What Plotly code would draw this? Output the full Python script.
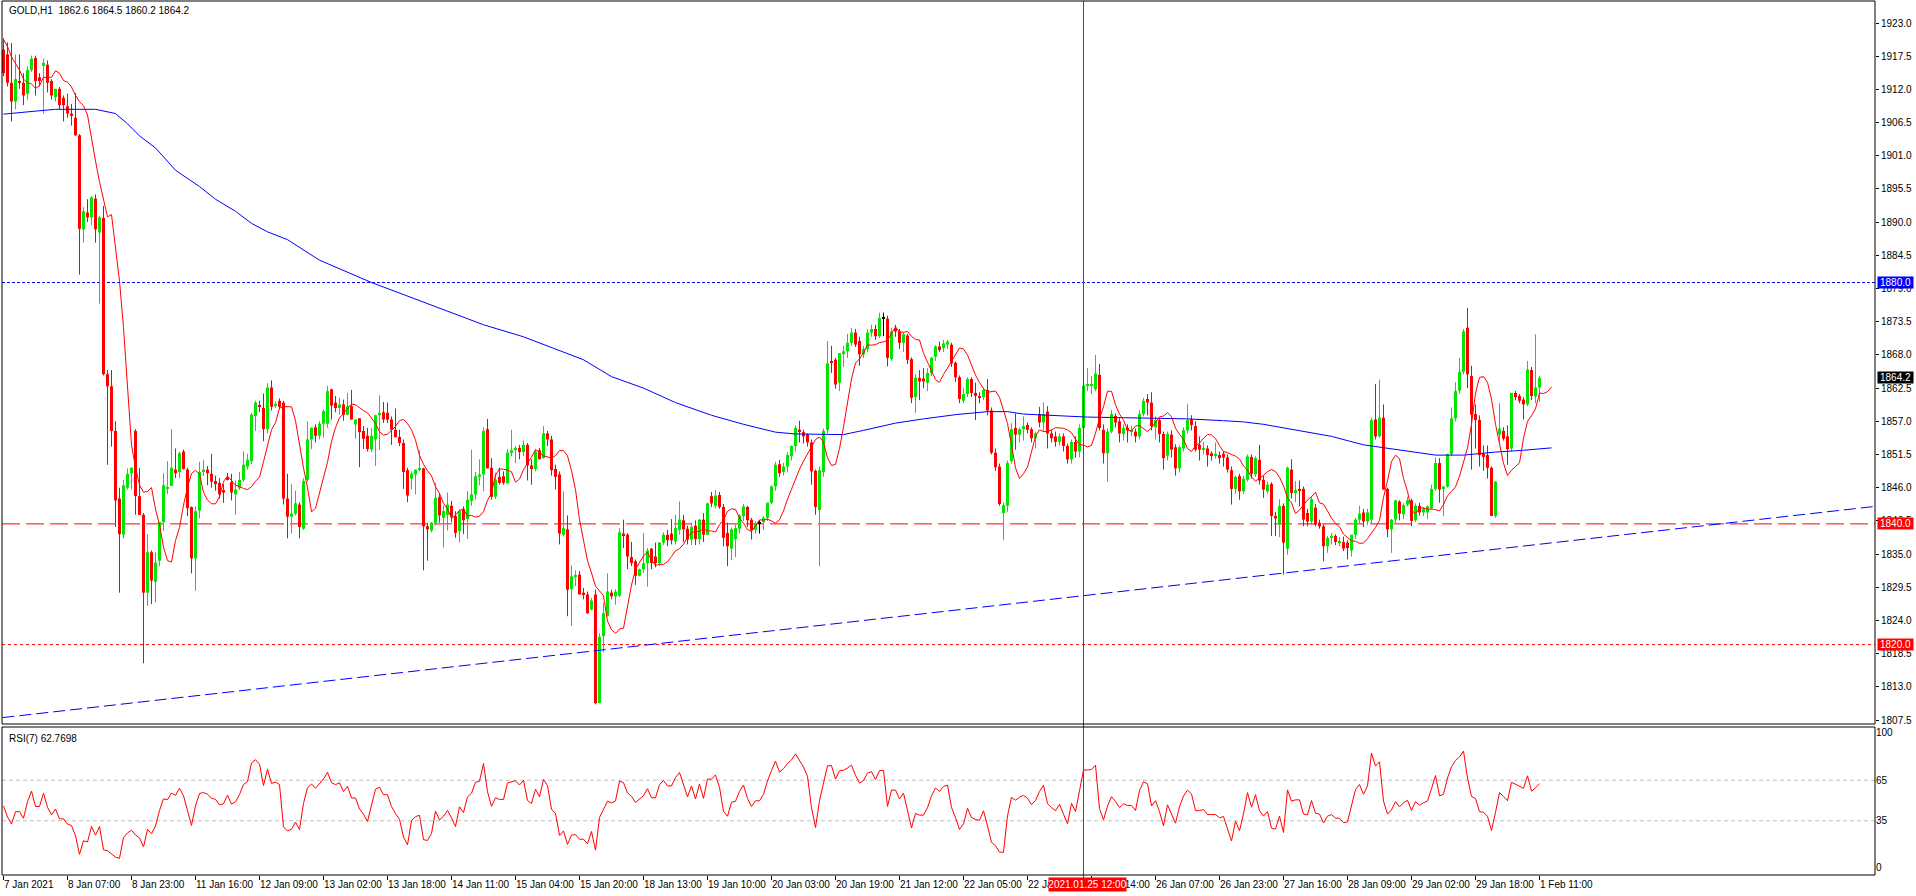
import plotly.graph_objects as go

# ---------------- DATA ----------------
opens = [
    1918.6, 1917.8, 1913.1, 1910.0, 1913.4, 1913.1, 1911.3, 1915.2, 1917.2, 1914.0,
    1915.9, 1916.1, 1913.4, 1910.7, 1912.1, 1910.6, 1909.2, 1908.0, 1907.3, 1904.4,
    1888.8, 1891.6, 1890.8, 1893.9, 1888.3, 1890.7, 1864.8, 1862.8, 1855.4, 1844.2,
    1838.2, 1846.0, 1848.4, 1855.4, 1844.6, 1841.5, 1828.6, 1835.3, 1830.4, 1833.9,
    1840.3, 1845.8, 1846.3, 1849.0, 1848.6, 1852.0, 1849.0, 1842.8, 1834.3, 1842.2,
    1848.6, 1849.0, 1848.3, 1847.1, 1846.8, 1845.6, 1847.7, 1846.9, 1844.9, 1845.9,
    1847.3, 1849.5, 1850.4, 1857.9, 1859.6, 1859.2, 1855.7, 1862.6, 1859.6, 1860.4,
    1860.1, 1844.2, 1841.2, 1841.7, 1843.2, 1839.2, 1847.3, 1854.0, 1856.0, 1854.6,
    1856.6, 1856.6, 1862.3, 1860.1, 1859.2, 1859.8, 1858.1, 1859.5, 1856.5, 1857.5,
    1855.4, 1854.6, 1852.3, 1854.0, 1858.0, 1858.5, 1858.4, 1857.3, 1855.6, 1854.4,
    1853.4, 1848.9, 1847.5, 1848.2, 1849.0, 1849.2, 1839.6, 1838.9, 1840.2, 1844.4,
    1841.0, 1841.5, 1843.0, 1841.3, 1838.8, 1842.5, 1840.8, 1843.8, 1844.9, 1847.8,
    1848.2, 1855.7, 1849.3, 1844.5, 1847.8, 1847.9, 1846.7, 1851.9, 1852.3, 1852.6,
    1851.9, 1853.1, 1849.7, 1849.1, 1852.2, 1850.9, 1855.0, 1854.0, 1849.1, 1848.2,
    1838.2, 1839.1, 1829.2, 1831.2, 1831.6, 1828.6, 1828.3, 1825.8, 1828.3, 1810.3,
    1821.4, 1824.7, 1828.6, 1828.0, 1828.1, 1838.4, 1838.2, 1834.5, 1833.8, 1831.4,
    1832.5, 1833.5, 1835.9, 1834.6, 1833.5, 1836.9, 1838.2, 1838.4, 1837.1, 1839.0,
    1840.6, 1839.2, 1837.4, 1839.7, 1837.5, 1840.7, 1838.2, 1844.6, 1843.0, 1844.8,
    1842.8, 1838.5, 1835.9, 1837.5, 1839.2, 1841.3, 1842.8, 1840.7, 1839.0, 1840.0,
    1840.3, 1841.0, 1843.5, 1846.2, 1849.9, 1848.6, 1849.5, 1851.2, 1852.9, 1855.6,
    1855.2, 1854.8, 1853.5, 1848.8, 1842.3, 1848.6, 1855.6, 1866.8, 1867.2, 1863.4,
    1868.3, 1868.6, 1870.0, 1871.7, 1870.3, 1868.1, 1869.0, 1871.7, 1872.3, 1871.1,
    1874.1, 1874.0, 1867.3, 1872.4, 1871.9, 1870.0, 1871.2, 1867.3, 1861.0, 1864.2,
    1864.1, 1863.4, 1865.0, 1867.7, 1869.4, 1869.1, 1869.7, 1869.7, 1866.7, 1864.3,
    1860.4, 1861.5, 1864.0, 1861.7, 1861.2, 1861.0, 1862.2, 1858.8, 1851.8, 1849.5,
    1841.8, 1843.0, 1850.4, 1855.9, 1854.8, 1855.7, 1856.4, 1855.7, 1854.2, 1858.2,
    1856.8, 1858.6, 1855.0, 1854.5, 1853.6, 1854.5, 1852.9, 1850.7, 1853.6, 1852.0,
    1855.9, 1862.9, 1863.0, 1862.3, 1864.7, 1855.6, 1851.7, 1855.3, 1857.9, 1857.0,
    1854.9, 1855.9, 1855.3, 1855.3, 1854.5, 1858.2, 1860.7, 1860.1, 1856.0, 1857.2,
    1854.9, 1851.3, 1854.8, 1852.7, 1849.2, 1852.5, 1855.5, 1857.3, 1856.2, 1853.1,
    1852.4, 1852.5, 1851.7, 1851.3, 1851.4, 1851.6, 1851.0, 1848.9, 1845.8, 1847.9,
    1845.4, 1847.3, 1851.1, 1848.2, 1850.6, 1847.3, 1845.4, 1846.6, 1841.3, 1839.9,
    1843.0, 1835.9, 1849.0, 1845.1, 1845.8, 1845.8, 1841.8, 1840.4, 1842.7, 1840.2,
    1839.6, 1836.3, 1837.7, 1838.0, 1836.9, 1837.0, 1836.9, 1835.6, 1838.2, 1840.7,
    1841.9, 1840.4, 1840.7, 1857.3, 1854.5, 1857.6, 1845.8, 1839.1, 1840.7, 1843.7,
    1841.6, 1843.2, 1843.9, 1840.6, 1843.0, 1841.9, 1841.9, 1842.6, 1845.8, 1850.1,
    1845.9, 1846.2, 1851.6, 1857.5, 1862.1, 1865.2, 1872.5, 1864.5, 1858.2, 1857.2,
    1851.6, 1851.4, 1849.3, 1841.3, 1854.8, 1855.4, 1854.5, 1852.5, 1861.7, 1861.2,
    1860.6, 1859.8, 1865.5, 1861.1, 1862.6,
]
highs = [
    1920.5, 1919.8, 1919.7, 1917.8, 1917.8, 1914.7, 1915.8, 1917.6, 1917.6, 1914.7,
    1917.1, 1916.8, 1913.7, 1912.1, 1912.4, 1911.0, 1911.3, 1909.6, 1911.4, 1904.6,
    1892.5, 1893.8, 1894.3, 1894.6, 1891.0, 1892.7, 1865.5, 1865.5, 1857.0, 1846.0,
    1847.3, 1849.2, 1849.4, 1855.7, 1849.3, 1841.8, 1838.3, 1835.6, 1835.3, 1840.3,
    1848.4, 1850.4, 1855.7, 1852.5, 1852.0, 1852.3, 1849.3, 1842.9, 1842.9, 1850.3,
    1850.6, 1849.6, 1851.6, 1848.0, 1847.6, 1846.6, 1848.4, 1848.3, 1847.2, 1848.6,
    1852.0, 1851.6, 1858.4, 1860.4, 1860.4, 1861.6, 1863.3, 1863.8, 1860.3, 1860.8,
    1860.4, 1848.3, 1846.6, 1845.5, 1843.6, 1847.6, 1857.0, 1856.0, 1856.5, 1857.0,
    1859.0, 1862.9, 1862.4, 1861.2, 1860.9, 1860.6, 1861.7, 1862.2, 1857.3, 1857.5,
    1856.2, 1855.9, 1855.9, 1858.1, 1861.3, 1860.2, 1860.1, 1857.8, 1859.1, 1855.6,
    1854.0, 1849.3, 1848.7, 1849.0, 1852.2, 1849.3, 1840.2, 1840.3, 1846.8, 1845.1,
    1843.0, 1845.2, 1843.8, 1842.1, 1842.4, 1842.9, 1845.4, 1852.3, 1848.6, 1850.7,
    1856.0, 1857.4, 1850.9, 1848.5, 1849.3, 1848.7, 1852.4, 1855.6, 1852.9, 1853.1,
    1853.8, 1853.4, 1850.7, 1852.3, 1852.6, 1856.2, 1855.4, 1854.6, 1849.8, 1848.7,
    1845.4, 1841.4, 1833.1, 1832.3, 1832.2, 1829.4, 1828.8, 1827.7, 1829.1, 1821.9,
    1826.9, 1831.8, 1829.1, 1829.2, 1839.3, 1840.7, 1838.5, 1837.0, 1834.1, 1832.6,
    1838.5, 1836.0, 1836.0, 1836.9, 1837.0, 1838.6, 1839.0, 1840.8, 1841.5, 1843.7,
    1841.5, 1839.7, 1840.2, 1840.6, 1840.8, 1841.8, 1843.5, 1845.3, 1845.6, 1845.3,
    1843.3, 1840.2, 1839.4, 1839.9, 1841.6, 1843.3, 1843.0, 1841.0, 1840.4, 1840.6,
    1841.3, 1843.5, 1846.4, 1850.3, 1850.6, 1850.1, 1851.9, 1853.0, 1856.3, 1857.1,
    1855.6, 1855.0, 1854.0, 1849.0, 1849.5, 1855.8, 1870.3, 1869.5, 1867.5, 1868.3,
    1869.5, 1871.5, 1872.5, 1872.3, 1871.0, 1869.5, 1872.3, 1873.0, 1873.0, 1875.0,
    1875.0, 1874.5, 1872.5, 1873.0, 1872.3, 1871.8, 1871.5, 1867.6, 1864.8, 1865.5,
    1865.8, 1865.8, 1867.7, 1869.6, 1870.2, 1870.5, 1870.5, 1870.0, 1866.9, 1864.6,
    1862.5, 1864.3, 1864.3, 1863.4, 1861.8, 1862.6, 1864.0, 1859.3, 1852.5, 1850.0,
    1843.5, 1850.5, 1856.7, 1858.3, 1856.0, 1857.8, 1856.8, 1856.0, 1855.3, 1859.4,
    1860.1, 1859.5, 1855.6, 1855.3, 1855.0, 1855.0, 1853.3, 1854.0, 1854.5, 1856.5,
    1863.5, 1865.8, 1864.5, 1868.0, 1866.5, 1856.5, 1855.8, 1858.9, 1858.3, 1857.5,
    1856.5, 1856.5, 1856.3, 1855.8, 1858.8, 1860.9, 1861.5, 1861.8, 1857.8, 1857.6,
    1855.3, 1855.3, 1855.5, 1853.2, 1853.0, 1856.0, 1859.9, 1858.0, 1857.0, 1854.5,
    1853.6, 1853.0, 1852.0, 1853.5, 1852.0, 1852.0, 1851.5, 1849.5, 1848.0, 1848.3,
    1848.0, 1851.5, 1851.5, 1851.2, 1853.1, 1848.0, 1847.0, 1846.9, 1842.0, 1844.1,
    1843.4, 1849.5, 1850.7, 1847.1, 1847.2, 1846.2, 1842.5, 1844.6, 1843.3, 1840.7,
    1839.9, 1838.0, 1838.5, 1838.3, 1837.8, 1837.9, 1837.3, 1838.2, 1841.0, 1843.0,
    1842.5, 1842.5, 1857.6, 1863.2, 1863.9, 1859.8, 1846.0, 1840.8, 1844.0, 1843.9,
    1843.4, 1844.5, 1844.2, 1843.4, 1843.5, 1842.8, 1843.1, 1846.5, 1851.0, 1850.9,
    1846.3, 1851.6, 1859.3, 1863.5, 1867.5, 1872.3, 1875.8, 1866.2, 1859.8, 1858.0,
    1853.0, 1853.0, 1849.5, 1847.1, 1860.0, 1856.0, 1856.3, 1861.7, 1862.0, 1861.5,
    1861.0, 1867.0, 1866.0, 1871.4, 1864.5,
]
lows = [
    1914.2, 1912.5, 1906.7, 1908.7, 1912.1, 1909.4, 1910.3, 1914.9, 1911.0, 1912.5,
    1908.0, 1911.5, 1910.3, 1910.0, 1908.7, 1906.7, 1907.3, 1906.0, 1904.3, 1881.3,
    1886.6, 1890.0, 1889.5, 1886.6, 1876.5, 1864.6, 1849.8, 1852.8, 1839.5, 1828.6,
    1837.6, 1845.7, 1845.7, 1841.5, 1841.5, 1816.9, 1826.4, 1826.7, 1827.0, 1833.0,
    1838.8, 1844.9, 1846.3, 1847.6, 1847.6, 1849.0, 1841.3, 1831.8, 1828.9, 1840.9,
    1848.0, 1846.4, 1846.0, 1845.5, 1844.2, 1843.5, 1847.2, 1843.9, 1841.5, 1845.6,
    1847.0, 1849.0, 1849.9, 1855.4, 1858.5, 1853.7, 1855.0, 1858.8, 1859.2, 1859.0,
    1843.2, 1837.6, 1838.4, 1841.4, 1837.6, 1839.0, 1847.0, 1852.4, 1853.5, 1854.0,
    1854.3, 1855.9, 1857.3, 1858.5, 1858.1, 1857.1, 1858.0, 1857.3, 1854.1, 1849.4,
    1852.4, 1852.0, 1851.9, 1849.6, 1852.3, 1856.7, 1856.7, 1853.1, 1854.3, 1852.9,
    1845.8, 1843.6, 1845.7, 1844.9, 1848.7, 1832.3, 1833.9, 1838.6, 1839.7, 1840.2,
    1836.1, 1838.9, 1840.3, 1837.7, 1836.9, 1838.3, 1837.5, 1843.0, 1844.0, 1846.4,
    1845.4, 1849.2, 1844.0, 1844.1, 1846.5, 1846.5, 1846.7, 1851.2, 1850.1, 1850.7,
    1851.2, 1847.2, 1846.5, 1848.7, 1850.7, 1850.8, 1852.9, 1848.0, 1845.7, 1836.6,
    1837.9, 1824.7, 1823.1, 1829.7, 1828.3, 1827.5, 1825.1, 1825.7, 1810.1, 1810.3,
    1818.7, 1824.7, 1827.5, 1826.6, 1827.9, 1836.0, 1832.5, 1833.0, 1829.9, 1831.3,
    1831.9, 1829.6, 1832.5, 1832.8, 1833.0, 1836.5, 1836.3, 1836.6, 1836.6, 1838.2,
    1837.0, 1836.6, 1836.5, 1836.5, 1836.6, 1837.0, 1838.2, 1842.8, 1842.6, 1842.5,
    1836.3, 1833.0, 1834.0, 1834.5, 1838.4, 1840.5, 1839.5, 1837.4, 1838.4, 1838.4,
    1839.0, 1840.5, 1843.3, 1845.5, 1847.8, 1848.0, 1848.5, 1850.5, 1852.0, 1853.5,
    1853.3, 1852.8, 1846.5, 1841.5, 1833.0, 1847.8, 1855.0, 1865.0, 1862.4, 1862.0,
    1866.0, 1867.5, 1869.5, 1869.3, 1866.2, 1867.5, 1868.5, 1871.0, 1870.5, 1870.8,
    1871.1, 1866.1, 1867.0, 1871.0, 1869.0, 1868.5, 1866.5, 1860.0, 1858.4, 1860.5,
    1862.5, 1862.0, 1864.5, 1867.0, 1868.5, 1868.5, 1869.0, 1866.0, 1863.5, 1860.0,
    1860.0, 1861.0, 1861.0, 1857.2, 1860.0, 1860.5, 1858.0, 1851.5, 1848.8, 1843.0,
    1837.3, 1842.0, 1850.0, 1852.3, 1853.5, 1853.8, 1855.0, 1853.5, 1852.5, 1856.0,
    1855.3, 1852.5, 1853.5, 1852.8, 1853.0, 1852.0, 1850.0, 1850.0, 1851.0, 1851.0,
    1855.5, 1862.0, 1861.5, 1862.0, 1855.5, 1850.0, 1847.0, 1855.0, 1856.0, 1853.5,
    1853.8, 1853.5, 1854.5, 1853.5, 1854.0, 1857.8, 1858.0, 1855.5, 1854.0, 1853.5,
    1849.0, 1850.5, 1851.0, 1848.0, 1848.5, 1852.0, 1855.0, 1855.5, 1852.0, 1850.5,
    1851.5, 1849.5, 1850.5, 1850.8, 1850.0, 1849.5, 1848.5, 1843.2, 1845.0, 1844.0,
    1845.0, 1847.0, 1847.5, 1847.8, 1846.5, 1844.3, 1845.0, 1838.0, 1838.0, 1837.8,
    1831.6, 1834.9, 1844.2, 1843.6, 1842.9, 1839.6, 1839.6, 1839.8, 1839.6, 1839.2,
    1833.8, 1835.2, 1836.6, 1836.5, 1836.3, 1835.5, 1834.1, 1834.6, 1837.5, 1840.0,
    1839.5, 1839.8, 1840.0, 1854.0, 1854.3, 1845.6, 1837.8, 1835.2, 1840.0, 1840.6,
    1840.8, 1842.9, 1839.6, 1840.3, 1841.4, 1841.3, 1840.8, 1842.4, 1845.5, 1843.5,
    1841.3, 1846.0, 1851.2, 1857.0, 1861.6, 1864.8, 1862.5, 1849.0, 1852.5, 1849.5,
    1848.8, 1847.5, 1841.3, 1841.0, 1853.5, 1853.8, 1849.8, 1852.0, 1860.5, 1860.0,
    1857.3, 1859.5, 1860.5, 1860.0, 1860.2,
]
closes = [
    1914.7, 1913.1, 1910.0, 1913.7, 1913.1, 1911.0, 1915.2, 1917.1, 1913.4, 1913.4,
    1916.4, 1913.1, 1911.0, 1912.1, 1909.4, 1909.4, 1908.0, 1907.6, 1904.4, 1888.9,
    1891.8, 1890.8, 1894.1, 1888.8, 1890.8, 1864.8, 1862.8, 1855.4, 1843.9, 1838.3,
    1846.4, 1848.3, 1849.3, 1844.6, 1841.5, 1828.6, 1835.3, 1830.6, 1833.6, 1840.3,
    1846.4, 1846.0, 1849.3, 1848.4, 1851.7, 1849.1, 1842.6, 1834.3, 1842.1, 1848.6,
    1849.0, 1848.4, 1847.0, 1846.6, 1844.9, 1845.2, 1847.4, 1845.2, 1845.7, 1847.3,
    1849.8, 1850.6, 1858.1, 1860.1, 1859.4, 1855.7, 1862.6, 1859.4, 1859.9, 1859.4,
    1844.2, 1841.2, 1841.7, 1843.4, 1839.5, 1847.1, 1854.0, 1855.9, 1854.6, 1856.6,
    1858.7, 1862.0, 1859.6, 1859.2, 1859.8, 1858.1, 1859.5, 1857.3, 1857.3, 1855.2,
    1854.1, 1852.4, 1854.6, 1858.0, 1858.4, 1857.3, 1857.3, 1855.6, 1854.4, 1853.4,
    1848.6, 1844.7, 1848.3, 1849.0, 1849.2, 1839.6, 1839.1, 1840.2, 1844.3, 1841.4,
    1842.1, 1843.2, 1841.2, 1838.5, 1842.1, 1840.6, 1844.0, 1844.9, 1847.9, 1848.2,
    1855.4, 1849.2, 1844.5, 1847.3, 1846.8, 1846.8, 1851.8, 1852.2, 1852.6, 1851.9,
    1853.1, 1849.7, 1849.1, 1852.0, 1850.7, 1855.0, 1854.0, 1848.9, 1847.8, 1838.4,
    1839.3, 1829.1, 1831.3, 1831.4, 1828.3, 1828.3, 1825.2, 1827.3, 1810.3, 1821.3,
    1825.2, 1828.8, 1828.0, 1828.8, 1838.6, 1838.1, 1834.6, 1833.5, 1831.4, 1832.5,
    1833.5, 1835.6, 1833.5, 1833.5, 1836.9, 1838.2, 1837.3, 1837.3, 1839.3, 1840.7,
    1839.1, 1837.4, 1839.5, 1837.5, 1840.7, 1838.2, 1843.4, 1843.4, 1844.7, 1842.8,
    1837.7, 1836.3, 1839.1, 1839.3, 1841.4, 1842.9, 1840.6, 1839.0, 1840.0, 1840.0,
    1841.0, 1843.5, 1846.2, 1849.8, 1848.4, 1849.5, 1851.4, 1852.9, 1855.9, 1855.2,
    1854.5, 1853.5, 1848.7, 1842.8, 1848.9, 1855.4, 1866.6, 1866.7, 1863.1, 1868.3,
    1868.6, 1870.0, 1871.7, 1869.7, 1868.1, 1869.0, 1871.7, 1872.3, 1871.1, 1874.1,
    1874.1, 1867.5, 1871.9, 1871.9, 1870.0, 1871.4, 1867.2, 1860.9, 1864.2, 1863.6,
    1863.6, 1865.0, 1867.5, 1869.4, 1868.8, 1869.9, 1870.2, 1866.6, 1864.3, 1860.7,
    1861.5, 1864.0, 1861.7, 1861.2, 1861.0, 1862.2, 1858.8, 1851.8, 1849.4, 1843.3,
    1843.1, 1850.1, 1855.7, 1854.8, 1855.7, 1856.2, 1855.6, 1854.2, 1855.0, 1856.8,
    1858.2, 1855.0, 1854.2, 1853.6, 1854.5, 1852.9, 1850.7, 1853.6, 1852.0, 1855.9,
    1862.9, 1863.0, 1863.2, 1864.9, 1855.9, 1851.7, 1855.3, 1858.2, 1856.8, 1855.0,
    1855.9, 1855.5, 1855.5, 1854.5, 1858.2, 1860.4, 1860.1, 1856.2, 1857.2, 1854.9,
    1850.9, 1854.9, 1852.3, 1849.2, 1852.7, 1855.5, 1857.2, 1856.4, 1852.3, 1852.3,
    1852.5, 1851.4, 1851.4, 1851.4, 1850.9, 1851.0, 1849.0, 1845.8, 1847.8, 1845.4,
    1847.5, 1851.2, 1848.3, 1850.9, 1847.2, 1845.7, 1846.5, 1841.3, 1840.9, 1843.0,
    1836.9, 1849.3, 1845.1, 1845.6, 1845.6, 1840.7, 1840.4, 1844.1, 1839.9, 1839.6,
    1836.3, 1837.7, 1838.0, 1837.0, 1837.0, 1835.9, 1836.0, 1838.2, 1840.7, 1841.7,
    1840.4, 1841.9, 1857.2, 1854.5, 1857.6, 1845.7, 1839.1, 1840.7, 1843.9, 1841.7,
    1843.1, 1843.9, 1840.5, 1843.0, 1841.9, 1842.5, 1842.9, 1845.8, 1850.1, 1845.7,
    1846.2, 1851.6, 1857.5, 1862.0, 1865.2, 1871.9, 1864.8, 1858.1, 1857.2, 1851.4,
    1851.1, 1849.3, 1841.3, 1847.0, 1855.8, 1854.1, 1852.4, 1861.7, 1861.0, 1860.4,
    1859.8, 1865.6, 1861.2, 1862.6, 1864.2,
]

# fast MA: SMA(5) shifted 3 bars forward; first values
ma_fast_head = [1920.3, 1919.1, 1917.4, 1916.4, 1915.2, 1913.7, 1913.1]
ma_fast_period = 5
ma_fast_shift = 3

# slow MA (bar index, value)
ma_slow_bars = [0, 4, 8, 13, 23, 28, 31, 34, 38, 43, 49, 53, 58, 62, 66, 71, 75, 79,
                92, 100, 110, 120, 130, 140, 145, 152, 160, 168, 177, 185, 193, 198,
                205, 210, 215, 223, 230, 238, 246, 251, 255, 263, 271, 280, 288, 296,
                305, 310, 315, 323, 332, 340, 347, 353, 358, 365, 373, 380, 387]
ma_slow_vals = [1907.9, 1908.1, 1908.4, 1908.7, 1908.7, 1908.0, 1906.3, 1904.3, 1902.3,
                1898.6, 1895.9, 1893.8, 1891.8, 1889.8, 1888.4, 1887.1, 1885.4, 1883.7,
                1880.0, 1878.0, 1875.5, 1873.0, 1871.0, 1868.5, 1867.2, 1864.4, 1862.5,
                1860.1, 1858.0, 1856.5, 1855.2, 1854.9, 1854.8, 1854.8, 1855.5, 1856.7,
                1857.4, 1858.1, 1858.6, 1858.6, 1858.2, 1857.9, 1857.7, 1857.6, 1857.5,
                1857.4, 1857.1, 1856.9, 1856.5, 1855.6, 1854.5, 1853.1, 1852.4, 1851.9,
                1851.4, 1851.4, 1851.9, 1852.2, 1852.6]

rsi_period = 7
rsi_head = [45.9, 37.8, 32.6, 41.7, 41.7, 36.8, 49.1]

x_tick_bars = [0, 16, 32, 48, 64, 80, 96, 112, 128, 144, 160, 176, 192, 208, 224,
               240, 256, 272, 288, 304, 320, 336, 352, 368, 384]
x_tick_text = ["7 Jan 2021", "8 Jan 07:00", "8 Jan 23:00", "11 Jan 16:00", "12 Jan 09:00",
               "13 Jan 02:00", "13 Jan 18:00", "14 Jan 11:00", "15 Jan 04:00", "15 Jan 20:00",
               "18 Jan 13:00", "19 Jan 10:00", "20 Jan 03:00", "20 Jan 19:00", "21 Jan 12:00",
               "22 Jan 05:00", "22 Jan 21:00", "25 Jan 14:00", "26 Jan 07:00", "26 Jan 23:00",
               "27 Jan 16:00", "28 Jan 09:00", "29 Jan 02:00", "29 Jan 18:00", "1 Feb 11:00"]
price_ticks = [1807.5, 1813.0, 1818.5, 1824.0, 1829.5, 1835.0, 1840.5, 1846.0, 1851.5,
               1857.0, 1862.5, 1868.0, 1873.5, 1879.0, 1884.5, 1890.0, 1895.5, 1901.0,
               1906.5, 1912.0, 1917.5, 1923.0]
rsi_ticks = [0, 35, 65, 100]

level_high = 1880.0
level_mid = 1840.0
level_low = 1820.0
current_price = 1864.2
trend_start = (-0.25, 1807.9)
trend_end = (467.9, 1842.9)
cross_bar = 270
cross_text = "2021.01.25 12:00"
title_text = "GOLD,H1  1862.6 1864.5 1860.2 1864.2"
rsi_text = "RSI(7) 62.7698"

# ---------------- DERIVED ----------------
N = len(closes)
assert len(opens) == N and len(highs) == N and len(lows) == N
idx = list(range(N))
highs = [max(h, o, c) for h, o, c in zip(highs, opens, closes)]
lows = [min(l, o, c) for l, o, c in zip(lows, opens, closes)]

ma_fast = []
for t in range(N + ma_fast_shift):
    if t < len(ma_fast_head):
        ma_fast.append(ma_fast_head[t])
    else:
        e = t - ma_fast_shift
        ma_fast.append(sum(closes[e - ma_fast_period + 1:e + 1]) / ma_fast_period)

rsi = list(rsi_head)
gains = [max(closes[i] - closes[i - 1], 0) for i in range(1, N)]
losses = [max(closes[i - 1] - closes[i], 0) for i in range(1, N)]
ag = sum(gains[:rsi_period]) / rsi_period
al = sum(losses[:rsi_period]) / rsi_period
rsi.append(100 - 100 / (1 + ag / al) if al > 0 else 100)
for i in range(rsi_period + 1, N):
    ag = (ag * (rsi_period - 1) + gains[i - 1]) / rsi_period
    al = (al * (rsi_period - 1) + losses[i - 1]) / rsi_period
    rsi.append(100 - 100 / (1 + ag / al) if al > 0 else 100.0)

GREEN = "#00E600"
RED = "#FF0000"
FONT = "Liberation Sans, Arial, sans-serif"


def pxx(px):
    return (px - 2) / 1873.0


def pxy(py):
    return (875 - py) / 874.0


fig = go.Figure()

groups = {"up": [], "down": [], "doji": []}
for i in idx:
    if closes[i] > opens[i]:
        groups["up"].append(i)
    elif closes[i] < opens[i]:
        groups["down"].append(i)
    else:
        groups["doji"].append(i)
colors = {"up": GREEN, "down": RED, "doji": "#000000"}

for k, ids in groups.items():
    if not ids:
        continue
    wx, wy = [], []
    for i in ids:
        wx += [i, i, None]
        wy += [lows[i], highs[i], None]
    fig.add_trace(go.Scatter(x=wx, y=wy, mode="lines", line=dict(color=colors[k], width=1),
                             hoverinfo="skip", showlegend=False, xaxis="x", yaxis="y"))
    fig.add_trace(go.Bar(x=ids, base=[min(opens[i], closes[i]) for i in ids],
                         y=[max(abs(closes[i] - opens[i]), 0.17) for i in ids],
                         width=0.75, marker=dict(color=colors[k], line=dict(width=0)),
                         showlegend=False, xaxis="x", yaxis="y"))

fig.add_trace(go.Scatter(x=ma_slow_bars, y=ma_slow_vals, mode="lines",
                         line=dict(color="#0000FF", width=1), showlegend=False,
                         xaxis="x", yaxis="y"))
fig.add_trace(go.Scatter(x=list(range(len(ma_fast))), y=ma_fast, mode="lines",
                         line=dict(color=RED, width=1), showlegend=False,
                         xaxis="x", yaxis="y"))
fig.add_trace(go.Scatter(x=idx, y=rsi, mode="lines", line=dict(color=RED, width=1),
                         showlegend=False, xaxis="x", yaxis="y2"))

main_dom = [pxy(724), 1.0]
rsi_dom = [0.0, pxy(727)]

shapes = [
    dict(type="line", xref="paper", yref="y", x0=0, x1=1, y0=level_high, y1=level_high,
         line=dict(color="#0000FF", width=1, dash="3px,2px"), layer="below"),
    dict(type="line", xref="paper", yref="y", x0=0, x1=1, y0=level_mid, y1=level_mid,
         line=dict(color=RED, width=1, dash="18px,6px"), layer="below"),
    dict(type="line", xref="paper", yref="y", x0=0, x1=1, y0=level_low, y1=level_low,
         line=dict(color=RED, width=1, dash="3px,3px"), layer="below"),
    dict(type="line", xref="x", yref="y", x0=trend_start[0], y0=trend_start[1],
         x1=trend_end[0], y1=trend_end[1], line=dict(color="#0000FF", width=1, dash="12px,5px")),
    dict(type="line", xref="paper", yref="y2", x0=0, x1=1, y0=65, y1=65,
         line=dict(color="#C0C0C0", width=1, dash="4px,3px"), layer="below"),
    dict(type="line", xref="paper", yref="y2", x0=0, x1=1, y0=35, y1=35,
         line=dict(color="#C0C0C0", width=1, dash="4px,3px"), layer="below"),
    dict(type="line", xref="x", yref="paper", x0=cross_bar, x1=cross_bar, y0=pxy(879), y1=1,
         line=dict(color=RED, width=1)),
    dict(type="rect", xref="paper", yref="paper", x0=0, x1=1, y0=main_dom[0], y1=main_dom[1],
         line=dict(color="#000000", width=1)),
    dict(type="rect", xref="paper", yref="paper", x0=0, x1=1, y0=rsi_dom[0], y1=rsi_dom[1],
         line=dict(color="#000000", width=1)),
]

annotations = [
    dict(text=title_text, xref="paper", yref="paper", x=pxx(7), y=pxy(10), xanchor="left",
         yanchor="middle", showarrow=False, font=dict(family=FONT, size=10, color="#000000")),
    dict(text=rsi_text, xref="paper", yref="paper", x=pxx(7), y=pxy(738), xanchor="left",
         yanchor="middle", showarrow=False, font=dict(family=FONT, size=10, color="#000000")),
    dict(text=cross_text, xref="x", yref="paper", x=cross_bar + 1, y=pxy(884.5),
         xanchor="center", yanchor="middle", showarrow=False, bgcolor=RED, width=77, height=13,
         borderpad=0, font=dict(family=FONT, size=10, color="#FFFFFF")),
]
for val, bg in [(level_high, "#0000FF"), (level_mid, RED), (level_low, RED),
                (current_price, "#000000")]:
    annotations.append(dict(text=f"{val:.1f}", xref="paper", yref="y", x=pxx(1877), y=val,
                            xanchor="left", yanchor="middle", showarrow=False, bgcolor=bg,
                            width=35, height=11, borderpad=0,
                            font=dict(family=FONT, size=10, color="#FFFFFF")))

fig.update_layout(
    width=1916, height=896,
    margin=dict(l=2, r=41, t=1, b=21),
    paper_bgcolor="#FFFFFF", plot_bgcolor="#FFFFFF",
    barmode="overlay", showlegend=False, hovermode=False,
    font=dict(family=FONT, size=10, color="#000000"),
    xaxis=dict(domain=[0, 1], range=[-0.375, 467.875], anchor="y2",
               tickmode="array", tickvals=x_tick_bars, ticktext=x_tick_text,
               ticks="outside", ticklen=4, tickcolor="#000000", tickangle=0,
               ticklabelposition="outside right",
               showgrid=False, zeroline=False, showline=False,
               tickfont=dict(family=FONT, size=10, color="#000000")),
    yaxis=dict(domain=main_dom, range=[1806.84, 1926.65], side="right", anchor="x",
               tickmode="array", tickvals=price_ticks,
               ticktext=[f"{v:.1f}" for v in price_ticks],
               ticks="outside", ticklen=3, tickcolor="#000000",
               showgrid=False, zeroline=False, showline=False,
               tickfont=dict(family=FONT, size=10, color="#000000")),
    yaxis2=dict(domain=rsi_dom, range=[-5.19, 104.44], side="right", anchor="x",
                tickmode="array", tickvals=rsi_ticks, ticktext=[str(v) for v in rsi_ticks],
                ticks="", showgrid=False, zeroline=False, showline=False,
                tickfont=dict(family=FONT, size=10, color="#000000")),
    shapes=shapes,
    annotations=annotations,
)

fig.write_html("out.html", config={"displayModeBar": False},
               post_script="document.body.style.margin='0px';document.body.style.overflow='hidden';")
